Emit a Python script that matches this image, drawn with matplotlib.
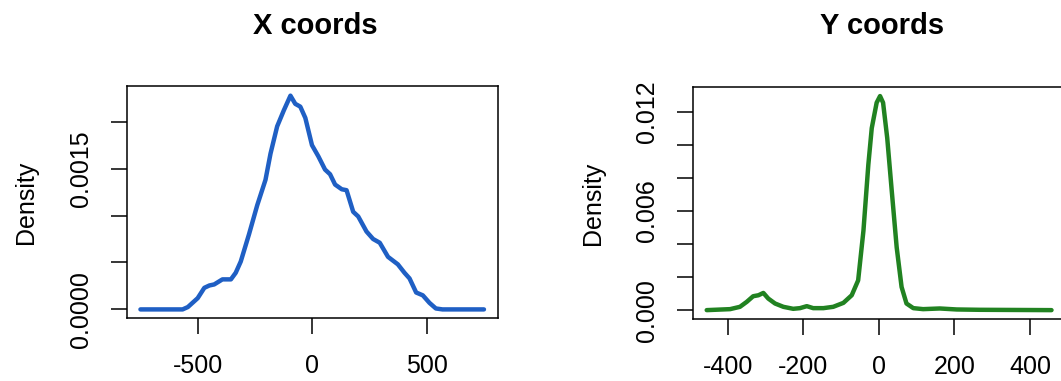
import matplotlib
matplotlib.use('Agg')
import matplotlib.pyplot as plt

# density estimate of X coordinates
x_pos = [-750, -566, -543, -500, -471, -449, -428, -392, -355, -334, -312, -276,
         -240, -204, -182, -153, -124, -95, -74, -52, -30, -1, 27, 56, 78, 100,
         129, 150, 179, 201, 237, 266, 295, 331, 374, 403, 425, 454, 483, 512,
         540, 569, 750]
x_dens = [0.0, 0.0, 0.000025, 0.00012, 0.00023, 0.000255, 0.000266, 0.00032,
          0.00032, 0.00039, 0.00051, 0.0008, 0.00111, 0.00138, 0.00166, 0.00195,
          0.00212, 0.002277, 0.00219, 0.00216, 0.00204, 0.00175, 0.00163,
          0.00149, 0.00144, 0.00133, 0.00128, 0.00127, 0.00104, 0.00099,
          0.00083, 0.00075, 0.00071, 0.00056, 0.00048, 0.00039, 0.00033,
          0.00018, 0.00015, 0.00007, 0.00001, 0.0, 0.0]

# density estimate of Y coordinates
y_pos = [-456, -394, -368, -350, -333, -319, -306, -293, -275, -253, -227, -209,
         -191, -174, -147, -121, -94, -72, -55, -41, -28, -19, -6, 3, 11, 22,
         34, 47, 60, 73, 91, 117, 161, 206, 267, 457]
y_dens = [0.0, 0.00006, 0.0002, 0.0005, 0.00084, 0.0009, 0.00104, 0.0007,
          0.0004, 0.0002, 0.00008, 0.00012, 0.00024, 0.00012, 0.00012, 0.0002,
          0.00044, 0.0009, 0.0018, 0.0048, 0.0088, 0.011, 0.01254, 0.01294,
          0.01254, 0.0104, 0.0072, 0.0038, 0.0014, 0.0004, 0.00012, 0.00006,
          0.0001, 0.00004, 0.00002, 0.0]

x_ticks = [-500, 0, 500]
x_yticks = [0, 0.0005, 0.001, 0.0015, 0.002]
x_ylabels = ['0.0000', '', '', '0.0015', '']
y_ticks = [-400, -200, 0, 200, 400]
y_yticks = [0, 0.002, 0.004, 0.006, 0.008, 0.010, 0.012]
y_ylabels = ['0.000', '', '', '0.006', '', '', '0.012']

plt.rcParams['font.family'] = ['Liberation Sans', 'DejaVu Sans']
plt.rcParams['font.size'] = 18
plt.rcParams['axes.unicode_minus'] = False

W, H = 1061, 381
fig = plt.figure(figsize=(W / 100, H / 100), dpi=100)


def style_axis(ax):
    for s in ax.spines.values():
        s.set_linewidth(1.1)
    ax.tick_params(axis='both', direction='out', length=11.5, width=1.1,
                   labelsize=18)
    ax.tick_params(axis='x', pad=14.5)
    ax.tick_params(axis='y', labelrotation=90, pad=13)
    for lab in ax.get_yticklabels():
        lab.set_va('center')
    ax.set_ylabel('Density', fontsize=18, labelpad=22)


# left panel
ax1 = fig.add_axes([126.7 / W, (H - 318) / H, 371 / W, 232 / H])
ax1.plot(x_pos, x_dens, color='#1f5fc4', lw=3.2, solid_capstyle='round')
ax1.set_xlim(-810, 810)
ax1.set_ylim(-0.0000915, 0.00238)
ax1.set_xticks(x_ticks)
ax1.set_yticks(x_yticks)
ax1.set_yticklabels(x_ylabels)
style_axis(ax1)
fig.text(315 / W, 1 - 26 / H, 'X coords', ha='center', va='center',
         fontsize=21, fontweight='bold')

# right panel (box runs past the right edge of the picture)
ax2 = fig.add_axes([693.3 / W, (H - 318.7) / H, 372 / W, 231.4 / H])
ax2.plot(y_pos, y_dens, color='#218221', lw=3.2, solid_capstyle='round')
ax2.set_xlim(-491.5, 493.5)
ax2.set_ylim(-0.000518, 0.01347)
ax2.set_xticks(y_ticks)
ax2.set_yticks(y_yticks)
ax2.set_yticklabels(y_ylabels)
style_axis(ax2)
fig.text(881.7 / W, 1 - 26 / H, 'Y coords', ha='center', va='center',
         fontsize=21, fontweight='bold')

fig.savefig('out.png', dpi=100)
